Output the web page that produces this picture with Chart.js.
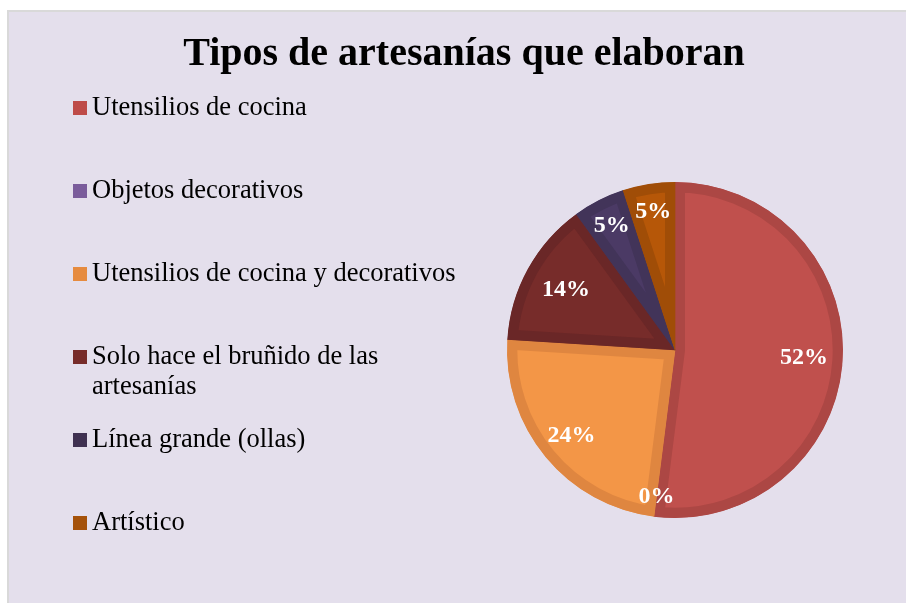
<!DOCTYPE html>
<html>
<head>
<meta charset="utf-8">
<script src="https://cdn.jsdelivr.net/npm/chart.js@4.4.0/dist/chart.umd.min.js"></script>
<style>
  html, body { margin: 0; padding: 0; background: #fff; overflow: hidden; }
  #panel { position: absolute; left: 7px; top: 10px; width: 920px; height: 610px;
           border: 2px solid #d9d9d9; background: #e4dfec; }
  #chart { display: block; }
</style>
</head>
<body>
<div id="panel"><canvas id="chart" width="920" height="610"></canvas></div>
<script>
const categories = [
  "Utensilios de cocina",
  "Objetos decorativos",
  "Utensilios de cocina y decorativos",
  "Solo hace el bruñido de las artesanías",
  "Línea grande (ollas)",
  "Artístico",
];
const percentages = [52, 0, 24, 14, 5, 5];
const sliceColors = ["#c0504d", "#7e62a1", "#f39647", "#772c2a", "#4b3a65", "#b65708"];
const bandColors = ["#ac4744", "#70568f", "#df8640", "#6a2727", "#423459", "#a04d07"];
const legendColors = ["#be4b48", "#7a5c9b", "#e68b3f", "#772c2a", "#3f3151", "#a5520a"];

const SERIF = '"Liberation Serif", "Times New Roman", serif';

// legend drawn in its own layout box on the left
function wrapText(ctx, text, maxWidth) {
  const words = text.split(" ");
  const lines = [];
  let line = "";
  words.forEach((w) => {
    const test = line ? line + " " + w : w;
    if (line && ctx.measureText(test).width > maxWidth) {
      lines.push(line);
      line = w;
    } else {
      line = test;
    }
  });
  if (line) lines.push(line);
  return lines;
}

const sideLegend = {
  id: "sideLegend",
  beforeInit(chart) {
    const box = {
      position: "left",
      weight: 10,
      fullSize: false,
      options: {},
      left: 0, top: 0, right: 0, bottom: 0, width: 0, height: 0,
      isHorizontal() {
        return false;
      },
      update(maxWidth, maxHeight) {
        this.width = 422;
        this.height = maxHeight;
      },
      draw() {
        const ctx = chart.ctx;
        ctx.save();
        ctx.font = "26.5px " + SERIF;
        ctx.textBaseline = "alphabetic";
        ctx.textAlign = "left";
        chart.data.labels.forEach((label, i) => {
          const cy = this.top + 19 + i * 83;
          ctx.fillStyle = legendColors[i];
          ctx.fillRect(64, cy - 7, 14, 14);
          ctx.fillStyle = "#000";
          wrapText(ctx, label, 385).forEach((ln, j) => {
            ctx.fillText(ln, 83, cy + 7 + j * 30);
          });
        });
        ctx.restore();
      },
    };
    Chart.layouts.addBox(chart, box);
  },
};

const sliceLabels = {
  id: "sliceLabels",
  afterDatasetsDraw(chart, args, opts) {
    const meta = chart.getDatasetMeta(0);
    const values = chart.data.datasets[0].data;
    const ctx = chart.ctx;
    ctx.save();
    ctx.font = "bold 24px " + SERIF;
    ctx.fillStyle = "#fff";
    ctx.textAlign = "center";
    ctx.textBaseline = "middle";
    meta.data.forEach((arc, i) => {
      const { x, y, startAngle, endAngle, outerRadius } = arc.getProps(
        ["x", "y", "startAngle", "endAngle", "outerRadius"], true);
      const mid = (startAngle + endAngle) / 2;
      const r = outerRadius * opts.radii[i];
      ctx.fillText(values[i] + "%", x + Math.cos(mid) * r, y + Math.sin(mid) * r);
    });
    ctx.restore();
  },
};

new Chart(document.getElementById("chart").getContext("2d"), {
  type: "pie",
  data: {
    labels: categories,
    datasets: [
      {
        data: percentages,
        backgroundColor: sliceColors,
        borderColor: bandColors,
        borderWidth: 10,
        borderAlign: "inner",
        borderJoinStyle: "miter",
      },
    ],
  },
  plugins: [sideLegend, sliceLabels],
  options: {
    responsive: false,
    animation: false,
    radius: 168,
    layout: {
      padding: { left: 0, right: 10, top: 0, bottom: 11 },
    },
    plugins: {
      legend: { display: false },
      tooltip: { enabled: false },
      title: {
        display: true,
        text: "Tipos de artesanías que elaboran",
        color: "#000",
        font: { family: SERIF, size: 40, weight: "bold", lineHeight: 1.2 },
        padding: { top: 19, bottom: 10 },
      },
      sliceLabels: {
        radii: [0.77, 0.88, 0.8, 0.74, 0.83, 0.83],
      },
    },
  },
});
</script>
</body>
</html>
